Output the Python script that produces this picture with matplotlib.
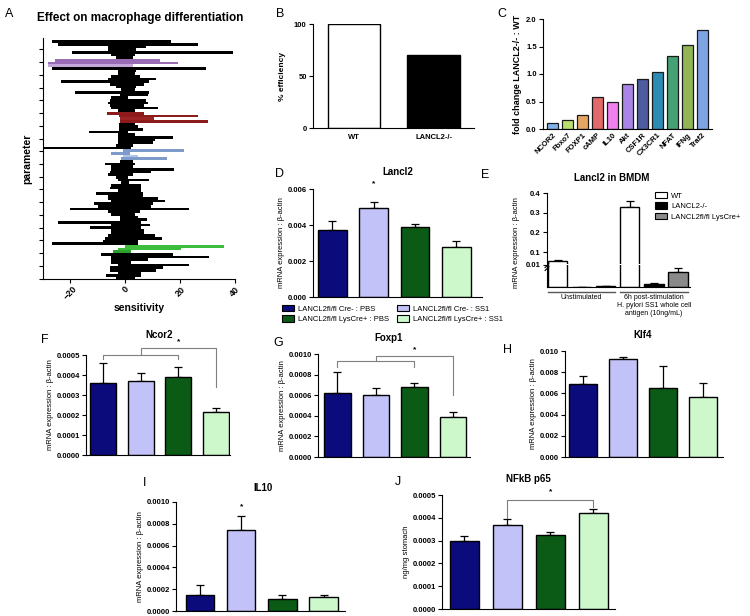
import matplotlib
matplotlib.use("Agg")
import matplotlib.pyplot as plt
import numpy as np
from matplotlib.patches import Patch

plt.rcParams['font.family'] = ['Liberation Sans', 'DejaVu Sans']
plt.rcParams['axes.linewidth'] = 0.8

# ---- data ----
# A: sensitivity range for each parameter, top to bottom
sens_lo = [-26.9, -24.7, -6.3, -6.3, -19.3, -5.1, -3.3, -25.5, -28.1, -28.1,
           -26.7, -2.7, -2.7, -5.3, -6.3, -23.5, -5.7, -3.3, -1.5, -18.4,
           -2.1, -5.1, -5.7, -6.3, -5.7, -5.1, -2.7, -6.5, -2.4, -2.1,
           -2.1, -2.4, -2.4, -2.4, -13.3, -2.7, -2.7, -2.7, -2.7, -3.3,
           -30.0, -0.8, -5.3, -0.8, -1.5, -2.1, -7.5, -5.1, -5.1, -5.7,
           -6.3, -3.3, -2.7, -1.5, -5.1, -5.7, -2.7, -10.5, -6.3, -6.3,
           -5.1, -11.5, -9.9, -20.2, -6.3, -5.3, -2.1, -2.1, -24.5, -5.3,
           -13.0, -5.1, -5.1, -6.3, -7.5, -8.1, -26.9, -0.2, -2.7, -4.5,
           -8.7, -5.1, -5.1, -5.1, -2.7, -5.7, -5.7, -2.7, -6.9, -3.3]
sens_hi = [16.5, 26.4, 7.6, 4.0, 39.2, 3.4, 2.8, 12.5, 19.2, 2.8,
           29.5, 4.0, 3.4, 5.2, 11.3, 8.8, 7.0, 4.0, 3.4, 8.6,
           8.2, 1.0, 7.6, 8.2, 7.0, 11.9, 3.4, 6.8, 26.4, 10.4,
           30.1, 3.4, 4.6, 6.4, 1.0, 3.4, 17.3, 10.7, 10.1, 2.8,
           2.2, 21.3, 1.6, 4.6, 15.3, 2.8, 3.4, 2.8, 17.9, 9.5,
           2.8, 1.0, 8.8, 1.2, 5.8, 5.8, 5.8, 6.4, 6.4, 11.9,
           14.3, 10.1, 9.5, 23.4, 5.2, 3.4, 4.6, 7.9, 5.8, 9.1,
           5.8, 7.0, 7.0, 10.7, 13.5, 4.6, 4.6, 36.1, 20.4, 2.2,
           17.3, 30.7, 8.2, 2.2, 23.4, 13.7, 11.3, 5.8, 5.8, 3.4]
highlight = {7: '#9a6cb6', 8: '#9a6cb6', 9: '#c4a6da',
             27: '#8e1b1b', 28: '#8e1b1b', 29: '#9c2424', 30: '#8e1b1b',
             41: '#7d9acb', 42: '#7d9acb', 43: '#aec6ea', 44: '#7d9acb',
             77: '#3cbd3c', 78: '#3cbd3c', 79: '#2e9e2e'}
sens_ticks = [-20, 0, 20, 40]

# B
eff_groups = ['WT', 'LANCL2-/-']
eff_vals = [100, 70]

# C
genes = ['NCOR2', 'Fbxo7', 'FOXP1', 'cAMP', 'IL10', 'Akt', 'CSF1R',
         'CX3CR1', 'NFAT', 'IFNg', 'Traf2']
fold = [0.11, 0.16, 0.26, 0.58, 0.50, 0.81, 0.91, 1.04, 1.32, 1.53, 1.80]
gene_colors = ['#7fb2ea', '#b9e06e', '#e6a662', '#e26a6a', '#f080ee', '#a885e6',
               '#4c5c9e', '#2d8cb4', '#45a274', '#93b556', '#7ea4e4']

# mouse groups (D, F-J)
grp_labels = ['LANCL2fl/fl Cre- : PBS', 'LANCL2fl/fl Cre- : SS1',
              'LANCL2fl/fl LysCre+ : PBS', 'LANCL2fl/fl LysCre+ : SS1']
grp_colors = ['#0b0b7c', '#c2c2f8', '#0b5a16', '#ccf8cc']
lancl2_mean = [0.0037, 0.00495, 0.0039, 0.0028]
lancl2_err = [0.00055, 0.00035, 0.00015, 0.0003]
ncor2_mean = [0.000358, 0.00037, 0.00039, 0.000213]
ncor2_err = [0.0001, 0.00004, 0.00005, 0.000023]
foxp1_mean = [0.00062, 0.0006, 0.00068, 0.00039]
foxp1_err = [0.00021, 0.00007, 0.00004, 0.00005]
klf4_mean = [0.0069, 0.0092, 0.0065, 0.0057]
klf4_err = [0.0007, 0.00025, 0.0021, 0.0013]
il10_mean = [0.000145, 0.00074, 0.00011, 0.000125]
il10_err = [0.00009, 0.000135, 0.000035, 0.000025]
nfkb_mean = [0.0003, 0.00037, 0.000325, 0.00042]
nfkb_err = [0.000018, 0.000025, 0.000013, 0.00002]

# E: BMDM, unstimulated then stimulated (WT, LANCL2-/-, LysCre+)
bmdm_labels = ['WT', 'LANCL2-/-', 'LANCL2fl/fl LysCre+']
bmdm_colors = ['white', 'black', '#8a8a8a']
bmdm_mean = [0.055, 0.0002, 0.0003, 0.33, 0.0013, 0.007]
bmdm_err = [0.006, 0.0, 0.0001, 0.03, 0.0003, 0.0017]
bmdm_conds = ['Unstimulated',
              '6h post-stimulation\nH. pylori SS1 whole cell\nantigen (10ng/mL)']

W, H = 750, 616
fig = plt.figure(figsize=(7.5, 6.16), dpi=100)


def px(l, t, r, b):
    return [l / W, 1 - b / H, (r - l) / W, (b - t) / H]


def ftext(x, y, s, **kw):
    kw.setdefault('ha', 'center')
    kw.setdefault('va', 'center')
    fig.text(x / W, 1 - y / H, s, **kw)


def style(ax, yticks, fmt, size=5.5):
    ax.spines['top'].set_visible(False)
    ax.spines['right'].set_visible(False)
    ax.set_yticks(yticks, [fmt % t for t in yticks], fontsize=size, fontweight='bold')
    ax.tick_params(axis='y', direction='out', length=3, width=0.8, pad=1.5)
    ax.tick_params(axis='x', length=0)


def grp_panel(box, means, errs, top, step, fmt, xlim, ylabel='mRNA expression : \u03b2-actin'):
    ax = fig.add_axes(px(*box))
    x = np.arange(4)
    ax.bar(x, means, width=0.69, color=grp_colors, edgecolor='black', linewidth=1.0, zorder=2)
    ax.errorbar(x, means, yerr=[np.zeros(4), errs], fmt='none', ecolor='black',
                elinewidth=0.9, capsize=3, capthick=0.9, zorder=1)
    ax.set_xlim(*xlim)
    ax.set_ylim(0, top)
    style(ax, np.linspace(0, top, int(round(top / step)) + 1), fmt)
    ax.set_xticks([])
    ax.set_ylabel(ylabel, fontsize=5.5, labelpad=2)
    return ax


def bracket(ax, left_y, drop_y, top_y, right_y, star_y, color='#7f7f7f'):
    kw = dict(color=color, lw=0.8, clip_on=False)
    ax.plot([0, 0, 2, 2], [drop_y, left_y, left_y, drop_y], **kw)
    ax.plot([1, 1, 3, 3], [left_y, top_y, top_y, right_y], **kw)
    ax.text(2, star_y, '*', ha='center', va='center', fontsize=6, fontweight='bold')


# ---- A ----
axA = fig.add_axes(px(43, 38, 235, 279))
rows = np.arange(len(sens_lo))
lo = np.array(sens_lo)
hi = np.array(sens_hi)
row_cols = [highlight.get(i, 'black') for i in rows]
axA.barh(rows, hi - lo, left=lo, height=1.0, color=row_cols, linewidth=0)
axA.set_xlim(-30, 40)
axA.set_ylim(89.3, -1.4)
axA.spines['top'].set_visible(False)
axA.spines['right'].set_visible(False)
axA.set_yticks(2.9 + 4.79 * np.arange(19), [])
axA.set_xticks(sens_ticks, [str(t).replace('-', '\u2212') for t in sens_ticks], rotation=45,
               fontsize=6.5, fontweight='bold')
axA.tick_params(direction='out', length=3, width=0.8, pad=1)
axA.set_ylabel('parameter', fontsize=7.5, fontweight='bold', labelpad=4)
axA.set_xlabel('sensitivity', fontsize=7.5, fontweight='bold', labelpad=1)
ftext(140, 18, 'Effect on macrophage differentiation', fontsize=8.5, fontweight='bold')
ftext(9, 14, 'A', fontsize=9)

# ---- B ----
axB = fig.add_axes(px(313, 24, 474, 128))
axB.bar([0, 1], eff_vals, width=0.66, color=['white', 'black'], edgecolor='black', linewidth=1.0)
axB.set_xlim(-0.52, 1.51)
axB.set_ylim(0, 100)
style(axB, [0, 50, 100], '%d')
axB.set_xticks([0, 1], eff_groups, fontsize=5.5, fontweight='bold')
axB.tick_params(axis='x', length=0, pad=4)
axB.set_ylabel('% efficiency', fontsize=6, fontweight='bold', labelpad=6)
ftext(280, 14, 'B', fontsize=9)

# ---- C ----
axC = fig.add_axes(px(543, 19, 712, 129))
xc = np.arange(len(genes))
axC.bar(xc, fold, width=0.73, color=gene_colors, edgecolor='#1a1a1a', linewidth=0.9)
axC.set_xlim(-0.63, 10.63)
axC.set_ylim(0, 2.0)
style(axC, [0.0, 0.5, 1.0, 1.5, 2.0], '%.1f')
axC.set_xticks(xc, genes, rotation=45, ha='right', rotation_mode='anchor',
               fontsize=5.5, fontweight='bold')
axC.tick_params(axis='x', length=0, pad=2)
axC.set_ylabel('fold change LANCL2-/- : WT', fontsize=6.5, fontweight='bold', labelpad=3)
ftext(502, 14, 'C', fontsize=9)

# ---- D ----
axD = grp_panel((313, 189, 482, 297), lancl2_mean, lancl2_err, 0.006, 0.002, '%.3f', (-0.47, 3.62))
axD.text(1, 0.0063, '*', ha='center', va='center', fontsize=6, fontweight='bold')
ftext(398, 172, 'Lancl2', fontsize=7, fontweight='bold')
ftext(280, 174, 'D', fontsize=9)
handles = [Patch(facecolor=c, edgecolor='black', linewidth=0.8) for c in grp_colors]
order = [0, 2, 1, 3]
fig.legend([handles[i] for i in order], [grp_labels[i] for i in order], ncol=2,
           loc='upper left', bbox_to_anchor=(282 / W, 1 - 305 / H), fontsize=5.5,
           frameon=False, handlelength=1.6, handleheight=0.9, handletextpad=0.5,
           columnspacing=1.0, labelspacing=0.35, borderaxespad=0, borderpad=0)

# ---- E ----
axEt = fig.add_axes(px(547, 193, 690, 264))
axEb = fig.add_axes(px(547, 265, 690, 287))
xe = np.arange(6)
e_cols = bmdm_colors * 2
for ax in (axEt, axEb):
    ax.bar(xe, bmdm_mean, width=0.8, color=e_cols, edgecolor='black', linewidth=1.0, zorder=2)
    ax.errorbar(xe, bmdm_mean, yerr=[np.zeros(6), bmdm_err], fmt='none', ecolor='black',
                elinewidth=0.9, capsize=3, capthick=0.9, zorder=1)
    ax.set_xlim(-0.44, 5.5)
    ax.set_xticks([])
axEt.set_ylim(0.04, 0.4)
style(axEt, [0.1, 0.2, 0.3, 0.4], '%.1f')
axEt.spines['bottom'].set_visible(False)
axEb.set_ylim(0, 0.01)
style(axEb, [0.01], '%.2f')
axEt.set_ylabel('mRNA expression : \u03b2-actin', fontsize=5.5, labelpad=5)
axEt.yaxis.set_label_coords(-0.19, 0.3)
axEb.plot([-0.52, -0.36], [0.0088, 0.0105], color='black', lw=0.8, clip_on=False)
axEb.plot([-0.52, -0.36], [0.0075, 0.0092], color='black', lw=0.8, clip_on=False)
for x0, x1, xm, lab in [(-0.4, 2.4, 1, bmdm_conds[0]), (2.6, 5.4, 4, bmdm_conds[1])]:
    axEb.plot([x0, x1], [-0.0022, -0.0022], color='#555555', lw=1.0, clip_on=False)
    axEb.text(xm, -0.0032, lab, ha='center', va='top', fontsize=5, linespacing=1.2)
ftext(612, 178, 'Lancl2 in BMDM', fontsize=7, fontweight='bold')
ftext(485, 175, 'E', fontsize=9)
e_handles = [Patch(facecolor=c, edgecolor='black', linewidth=0.8) for c in bmdm_colors]
fig.legend(e_handles, bmdm_labels, loc='upper left', bbox_to_anchor=(655 / W, 1 - 192 / H),
           fontsize=5.5, frameon=False, handlelength=1.6, handleheight=0.9,
           handletextpad=0.5, labelspacing=0.35, borderaxespad=0, borderpad=0)

# ---- F ----
axF = grp_panel((86, 355, 230, 455), ncor2_mean, ncor2_err, 0.0005, 0.0001, '%.4f', (-0.45, 3.37))
bracket(axF, 0.0005, 0.000478, 0.000533, 0.000342, 0.000565)
ftext(159, 335, 'Ncor2', fontsize=7, fontweight='bold')
ftext(45, 340, 'F', fontsize=9)

# ---- G ----
axG = grp_panel((318, 354, 470, 457), foxp1_mean, foxp1_err, 0.001, 0.0002, '%.4f', (-0.5, 3.44))
bracket(axG, 0.000932, 0.000877, 0.00098, 0.000602, 0.00104)
ftext(389, 338, 'Foxp1', fontsize=7, fontweight='bold')
ftext(278, 343, 'G', fontsize=9)

# ---- H ----
axH = grp_panel((565, 351, 723, 457), klf4_mean, klf4_err, 0.010, 0.002, '%.3f', (-0.45, 3.5))
ftext(643, 335, 'Klf4', fontsize=7, fontweight='bold')
ftext(508, 350, 'H', fontsize=9)

# ---- I ----
axI = grp_panel((176, 502, 345, 611), il10_mean, il10_err, 0.001, 0.0002, '%.4f', (-0.58, 3.52))
axI.text(1, 0.00096, '*', ha='center', va='center', fontsize=6, fontweight='bold')
ftext(263, 488, 'IL10', fontsize=7, fontweight='bold')
ftext(145, 483, 'I', fontsize=9)

# ---- J ----
axJ = grp_panel((442, 495, 615, 609), nfkb_mean, nfkb_err, 0.0005, 0.0001, '%.4f', (-0.52, 3.5),
                ylabel='ng/mg stomach')
axJ.plot([1, 1, 3, 3], [0.000398, 0.000478, 0.000478, 0.000448], color='#7f7f7f', lw=0.8, clip_on=False)
axJ.text(2, 0.000515, '*', ha='center', va='center', fontsize=6, fontweight='bold')
ftext(528, 479, 'NFkB p65', fontsize=7, fontweight='bold')
ftext(398, 482, 'J', fontsize=9)

fig.savefig('out.png', dpi=100)
